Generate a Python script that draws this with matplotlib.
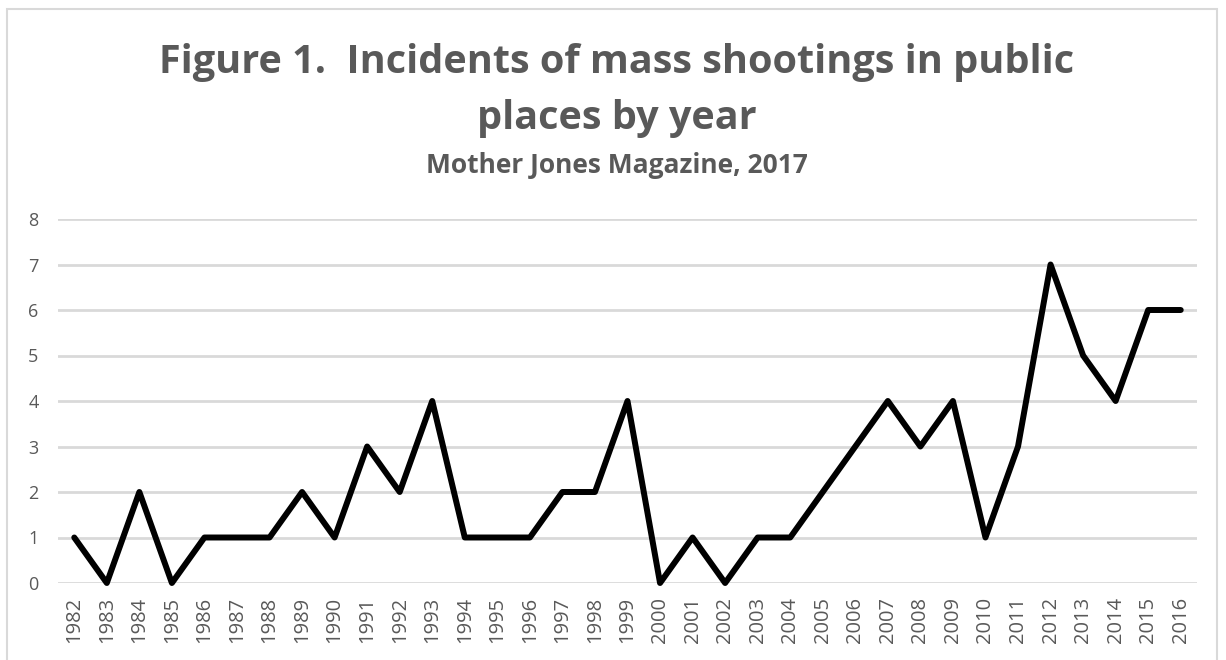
import numpy as np
import matplotlib.pyplot as plt
from matplotlib.patches import Rectangle

years = [str(y) for y in range(1982, 2017)]
incidents = [1, 0, 2, 0, 1, 1, 1, 2, 1, 3, 2, 4, 1, 1, 1, 2, 2, 4, 0, 1,
             0, 1, 1, 2, 3, 4, 3, 4, 1, 3, 7, 5, 4, 6, 6]
yticks = [0, 1, 2, 3, 4, 5, 6, 7, 8]

title_1 = "Figure 1.  Incidents of mass shootings in public"
title_2 = "places by year"
subtitle = "Mother Jones Magazine, 2017"

plt.rcParams['font.family'] = ['Open Sans', 'DejaVu Sans']
gris = "#595959"

fig = plt.figure(figsize=(12.26, 6.6), dpi=100)
ax = fig.add_axes([58 / 1226, 1 - 583 / 660, (1197 - 58) / 1226, (583 - 219) / 660])

x = np.arange(len(years))
ax.plot(x, incidents, color="black", linewidth=4.3, solid_joinstyle="round",
        solid_capstyle="round", zorder=3, clip_on=False)

ax.set_xlim(-0.5, len(years) - 0.5)
ax.set_ylim(0, 8)
ax.set_yticks(yticks)
ax.set_xticks(x)
ax.set_xticklabels(years, rotation=90)
ax.tick_params(axis='both', length=0, colors=gris)
ax.tick_params(axis='y', pad=14, labelsize=13)
ax.tick_params(axis='x', pad=10, labelsize=14.5)
ax.grid(axis='y', color="#d9d9d9", linewidth=2)
ax.set_axisbelow(True)
for s in ax.spines.values():
    s.set_visible(False)

# cadre du graphique
fig.patches.append(Rectangle((7 / 1226, -0.01), (1217 - 7) / 1226, 1 - 9 / 660 + 0.01,
                             transform=fig.transFigure, fill=False,
                             edgecolor="#d9d9d9", linewidth=1.5))

fig.text(617 / 1226, 1 - 62 / 660, title_1, ha="center", va="center",
         fontsize=28.5, fontweight="bold", color=gris)
fig.text(617 / 1226, 1 - 119 / 660, title_2, ha="center", va="center",
         fontsize=28.5, fontweight="bold", color=gris)
fig.text(617 / 1226, 1 - 166 / 660, subtitle, ha="center", va="center",
         fontsize=19, fontweight="bold", color=gris)

fig.savefig("out.png", dpi=100)
